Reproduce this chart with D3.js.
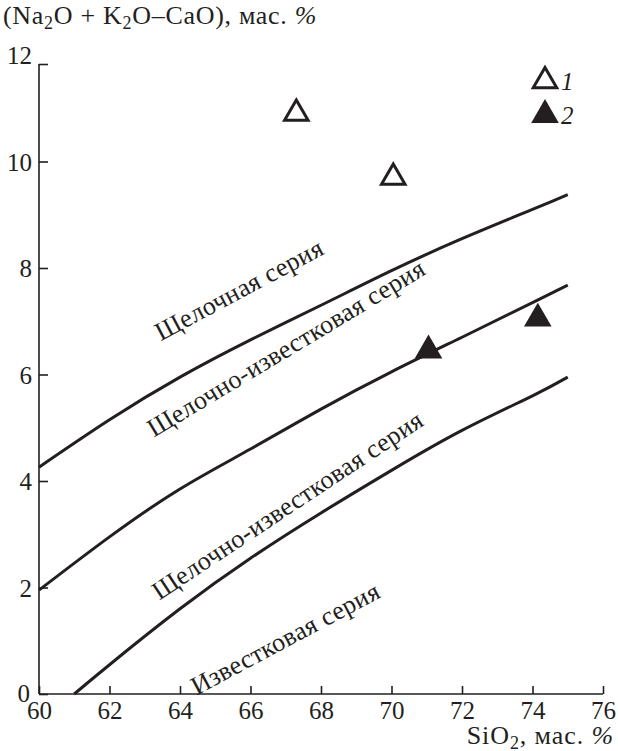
<!DOCTYPE html>
<html>
<head>
<meta charset="utf-8">
<script src="https://cdn.jsdelivr.net/npm/d3@7"></script>
<style>
  html, body { margin: 0; padding: 0; background: #fff; }
</style>
</head>
<body>
<div id="chart"></div>
<script>
// boundary curves (SiO2 -> Na2O+K2O-CaO)
var curveX = [60, 62, 64, 66, 68, 70, 72, 74, 75];
var curveAlkaline = [4.26, 5.15, 5.95, 6.65, 7.3, 7.95, 8.55, 9.1, 9.38];
var curveCalcAlk = [1.95, 2.95, 3.85, 4.6, 5.35, 6.05, 6.7, 7.35, 7.68];
var curveCalcX = [61, 62, 64, 66, 68, 70, 72, 74, 75];
var curveCalc = [0, 0.55, 1.6, 2.55, 3.4, 4.2, 4.95, 5.6, 5.95];

// samples
var openX = [67.3, 70.05];
var openY = [10.9, 9.7];
var filledX = [71.05, 74.15];
var filledY = [6.45, 7.05];

var xTicks = [60, 62, 64, 66, 68, 70, 72, 74, 76];
var yTicks = [0, 2, 4, 6, 8, 10, 12];

var seriesLabels = [
    { text: 'Щелочная серия', x: 65.67, y: 7.6, angle: -28 },
    { text: 'Щелочно-известковая серия', x: 67.0, y: 6.5, angle: -31 },
    { text: 'Щелочно-известковая серия', x: 67.04, y: 3.55, angle: -33.5 },
    { text: 'Известковая серия', x: 66.98, y: 1.05, angle: -28 }
];

var FONT = '"Liberation Serif", "DejaVu Serif", serif';
var W = 618, H = 751;
var svg = d3.select('#chart').append('svg')
    .attr('width', W)
    .attr('height', H)
    .style('font-family', FONT);

var x = d3.scaleLinear().domain([60, 76]).range([39, 603]);
var y = d3.scaleLinear().domain([0, 12]).range([694, 55]);
var ink = '#231f20';

// axes
var xAxis = svg.append('g')
    .attr('transform', 'translate(0,' + y(0) + ')')
    .call(d3.axisBottom(x).tickValues(xTicks).tickSize(-8).tickPadding(7));
var yAxis = svg.append('g')
    .attr('transform', 'translate(' + x(60) + ',0)')
    .call(d3.axisLeft(y).tickValues(yTicks).tickSize(-9).tickPadding(7));

[xAxis, yAxis].forEach(function (g) {
    g.attr('font-family', null);
    g.select('.domain').attr('stroke', ink).attr('stroke-width', 1.6);
    g.selectAll('.tick line').attr('stroke', ink).attr('stroke-width', 1.6);
    g.selectAll('.tick text')
        .style('font-family', FONT)
        .style('font-size', '25px')
        .attr('fill', ink);
});
xAxis.select('.domain').attr('d', 'M' + x(60) + ',0H' + x(76));
xAxis.selectAll('.tick text').attr('dy', '0.71em');
// the top of the y axis stops a little below the "12" label
var yTop = y(12) + 9;
yAxis.select('.domain').attr('d', 'M0,' + y(0) + 'V' + yTop);
yAxis.selectAll('.tick line').filter(function (d) { return d === 12; })
    .attr('y1', 9).attr('y2', 9);
yAxis.selectAll('.tick text').attr('dy', '0.35em');
yAxis.selectAll('.tick text').filter(function (d) { return d === 0; }).attr('x', -9).attr('dy', '0.3em');

// axis titles
var yTitle = svg.append('text').attr('x', 3).attr('y', 24)
    .style('font-size', '26px').style('letter-spacing', '0.7px').attr('fill', ink);
yTitle.append('tspan').text('(Na');
yTitle.append('tspan').attr('baseline-shift', '-25%').style('font-size', '18px').text('2');
yTitle.append('tspan').text('O + K');
yTitle.append('tspan').attr('baseline-shift', '-25%').style('font-size', '18px').text('2');
yTitle.append('tspan').text('O–CaO), мас. ');
yTitle.append('tspan').style('font-style', 'italic').text('%');

var xTitle = svg.append('text').attr('x', 614).attr('y', 744)
    .attr('text-anchor', 'end').style('font-size', '26px').style('letter-spacing', '0.9px')
    .attr('fill', ink);
xTitle.append('tspan').text('SiO');
xTitle.append('tspan').attr('baseline-shift', '-25%').style('font-size', '18px').text('2');
xTitle.append('tspan').text(', мас. ');
xTitle.append('tspan').style('font-style', 'italic').text('%');

// boundary curves
var line = d3.line()
    .curve(d3.curveNatural)
    .x(function (d) { return x(d[0]); })
    .y(function (d) { return y(d[1]); });

[[curveX, curveAlkaline], [curveX, curveCalcAlk], [curveCalcX, curveCalc]].forEach(function (c) {
    svg.append('path')
        .datum(d3.zip(c[0], c[1]))
        .attr('fill', 'none')
        .attr('stroke', ink)
        .attr('stroke-width', 3)
        .attr('d', line);
});

// series labels
seriesLabels.forEach(function (l) {
    svg.append('text')
        .attr('transform', 'translate(' + x(l.x) + ',' + y(l.y) + ') rotate(' + l.angle + ')')
        .attr('text-anchor', 'middle')
        .attr('dy', '0.35em')
        .attr('fill', ink)
        .style('font-size', '26px')
        .style('letter-spacing', '0.3px')
        .text(l.text);
});

// triangles
var openTri = d3.symbol().type(d3.symbolTriangle).size(240);
var fillTri = d3.symbol().type(d3.symbolTriangle).size(330);
svg.selectAll('.open').data(d3.zip(openX, openY)).enter()
    .append('path')
    .attr('class', 'open')
    .attr('d', openTri)
    .attr('transform', function (d) { return 'translate(' + x(d[0]) + ',' + y(d[1]) + ')'; })
    .attr('fill', '#fff')
    .attr('stroke', ink)
    .attr('stroke-width', 3);
svg.selectAll('.filled').data(d3.zip(filledX, filledY)).enter()
    .append('path')
    .attr('class', 'filled')
    .attr('d', fillTri)
    .attr('transform', function (d) { return 'translate(' + x(d[0]) + ',' + y(d[1]) + ')'; })
    .attr('fill', ink);

// legend
var legend = svg.append('g').attr('transform', 'translate(545,0)');
legend.append('path').attr('d', openTri).attr('transform', 'translate(0,81)')
    .attr('fill', '#fff').attr('stroke', ink).attr('stroke-width', 3);
legend.append('path').attr('d', fillTri)
    .attr('transform', 'translate(0,115)').attr('fill', ink);
legend.append('text').attr('x', 16).attr('y', 90).attr('fill', ink)
    .style('font-size', '25px').style('font-style', 'italic').text('1');
legend.append('text').attr('x', 16).attr('y', 124).attr('fill', ink)
    .style('font-size', '25px').style('font-style', 'italic').text('2');
</script>
</body>
</html>
